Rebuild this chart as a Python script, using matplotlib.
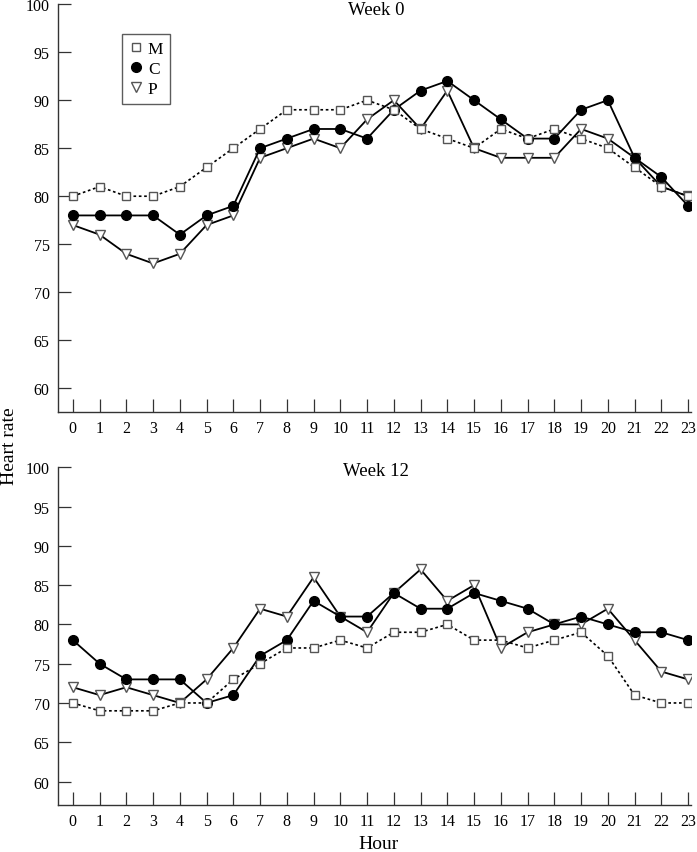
import matplotlib
matplotlib.use("Agg")
import matplotlib.pyplot as plt
from matplotlib.lines import Line2D

# hours of the day
hours = list(range(24))

# week 0 heart rate
m_week0 = [80, 81, 80, 80, 81, 83, 85, 87, 89, 89, 89, 90,
           89, 87, 86, 85, 87, 86, 87, 86, 85, 83, 81, 80]
c_week0 = [78, 78, 78, 78, 76, 78, 79, 85, 86, 87, 87, 86,
           89, 91, 92, 90, 88, 86, 86, 89, 90, 84, 82, 79]
p_week0 = [77, 76, 74, 73, 74, 77, 78, 84, 85, 86, 85, 88,
           90, 87, 91, 85, 84, 84, 84, 87, 86, 84, 81, 80]

# week 12 heart rate
m_week12 = [70, 69, 69, 69, 70, 70, 73, 75, 77, 77, 78, 77,
            79, 79, 80, 78, 78, 77, 78, 79, 76, 71, 70, 70]
c_week12 = [78, 75, 73, 73, 73, 70, 71, 76, 78, 83, 81, 81,
            84, 82, 82, 84, 83, 82, 80, 81, 80, 79, 79, 78]
p_week12 = [72, 71, 72, 71, 70, 73, 77, 82, 81, 86, 81, 79,
            84, 87, 83, 85, 77, 79, 80, 80, 82, 78, 74, 73]

y_ticks = [60, 65, 70, 75, 80, 85, 90, 95, 100]

plt.rcParams['font.family'] = ['Liberation Serif', 'DejaVu Serif']
plt.rcParams['font.size'] = 11.5

fig = plt.figure(figsize=(6.97, 8.53), dpi=100)
ax_top = fig.add_axes([0.083, 0.516, 0.908, 0.478])
ax_bot = fig.add_axes([0.083, 0.055, 0.908, 0.396])

spine_col = '#333333'
edge_col = '#555555'


def draw_panel(ax, m, c, p, title, title_y, ymin):
    # P first, then C, M on top
    ax.plot(hours, p, color='black', lw=1.3, marker='v', ms=7.5,
            mfc='white', mec=edge_col, mew=1.0, zorder=2)
    ax.plot(hours, c, color='black', lw=1.3, marker='o', ms=7,
            mfc='black', mec='black', zorder=3)
    ax.plot(hours, m, color='black', lw=1.2, ls=(0, (1.6, 1.6)), marker='s',
            ms=6, mfc='white', mec=edge_col, mew=1.0, zorder=4)
    ax.set_xlim(-0.56, 23.1)
    ax.set_ylim(ymin, 100)
    ax.set_xticks(hours)
    ax.set_yticks(y_ticks)
    for s in ['top', 'right']:
        ax.spines[s].set_visible(False)
    for s in ['left', 'bottom']:
        ax.spines[s].set_color(spine_col)
        ax.spines[s].set_linewidth(1.0)
    ax.tick_params(direction='in', length=9.5, width=0.9, color=spine_col,
                   labelsize=11.5, pad=6)
    # title sits inside the panel, just under its top
    fig.text(376 / 697, 1 - title_y / 853, title, ha='center',
             va='baseline', fontsize=13.5)


draw_panel(ax_top, m_week0, c_week0, p_week0, 'Week 0', 15, 57.55)
draw_panel(ax_bot, m_week12, c_week12, p_week12, 'Week 12', 476, 57.0)

handles = [
    Line2D([], [], ls='none', marker='s', ms=6, mfc='white', mec=edge_col),
    Line2D([], [], ls='none', marker='o', ms=7, mfc='black', mec='black'),
    Line2D([], [], ls='none', marker='v', ms=7, mfc='white', mec=edge_col),
]
leg = ax_top.legend(handles, ['M', 'C', 'P'], loc='upper left',
                    bbox_to_anchor=(0.101, 0.926), borderaxespad=0,
                    fancybox=False, frameon=True, fontsize=12.5,
                    handlelength=0.8, handletextpad=0.3, labelspacing=0.2,
                    borderpad=0.4)
leg.get_frame().set_edgecolor(spine_col)
leg.get_frame().set_linewidth(1.0)

fig.text(10 / 697, 1 - 446 / 853, 'Heart rate', rotation=90, ha='center',
         va='center', fontsize=14)
fig.text(379 / 697, 1 - 845 / 853, 'Hour', ha='center', va='center',
         fontsize=14)

fig.savefig('out.png', dpi=100)
